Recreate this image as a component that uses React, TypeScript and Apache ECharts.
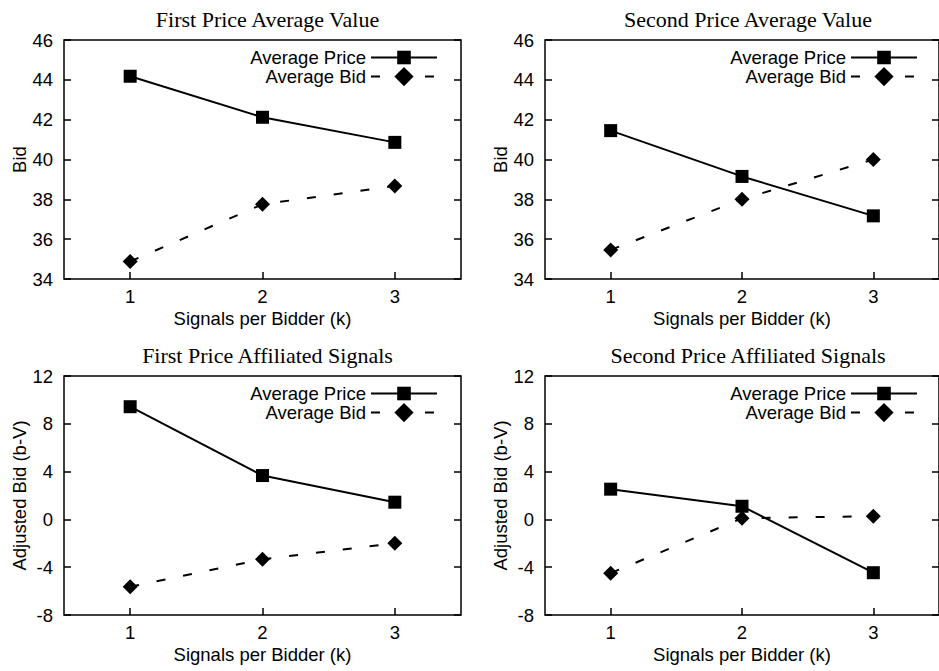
import React, { useEffect, useRef } from "react";
import * as echarts from "echarts";

// ---- Data ----
const kValues = [1, 2, 3];
const seriesNames = ["Average Price", "Average Bid"];

const titles = [
  "First Price Average Value",
  "Second Price Average Value",
  "First Price Affiliated Signals",
  "Second Price Affiliated Signals",
];
const yNames = ["Bid", "Bid", "Adjusted Bid (b-V)", "Adjusted Bid (b-V)"];
const xName = "Signals per Bidder (k)";

const fpavPrice = [44.18, 42.12, 40.86];
const fpavBid = [34.88, 37.75, 38.67];
const spavPrice = [41.45, 39.15, 37.17];
const spavBid = [35.46, 38.0, 40.0];
const fpasPrice = [9.43, 3.67, 1.44];
const fpasBid = [-5.64, -3.34, -2.0];
const spasPrice = [2.53, 1.1, -4.46];
const spasBid = [-4.5, 0.1, 0.27];

const priceData = [fpavPrice, spavPrice, fpasPrice, spasPrice];
const bidData = [fpavBid, spavBid, fpasBid, spasBid];

const yRangeTop = { min: 34, max: 46, interval: 2 };
const yRangeBottom = { min: -8, max: 12, interval: 4 };

// ---- Layout ----
const grids = [
  { left: 64, top: 40, width: 397, height: 239 },
  { left: 545, top: 40, width: 396, height: 239 },
  { left: 64, top: 376, width: 397, height: 239 },
  { left: 545, top: 376, width: 396, height: 239 },
];

const SANS = "Liberation Sans, Arial, Helvetica, sans-serif";
const SERIF = "Liberation Serif, Times New Roman, serif";
const FS = 18.5;

export default function App() {
  const ref = useRef<HTMLDivElement>(null);

  useEffect(() => {
    if (!ref.current) return;
    const chart = echarts.init(ref.current, null, { renderer: "svg" });

    const pair = (ys: number[]) => kValues.map((k, i) => [k, ys[i]]);

    const legendText = {
      fontFamily: SANS,
      fontSize: FS,
      color: "#000",
      lineHeight: 17,
    };

    const option: any = {
      animation: false,
      backgroundColor: "#fff",
      title: grids.map((g, i) => ({
        text: titles[i],
        left: g.left + g.width / 2,
        top: g.top - 37,
        textAlign: "center",
        textStyle: {
          fontFamily: SERIF,
          fontSize: 22,
          fontWeight: "normal",
          color: "#000",
        },
      })),
      legend: grids.flatMap((g) => [
        {
          orient: "vertical",
          align: "right",
          right: 939 - (g.left + g.width - 23),
          top: g.top + 8,
          padding: 0,
          itemWidth: 66,
          itemHeight: 17,
          selectedMode: false,
          data: [seriesNames[0]],
          textStyle: legendText,
        },
        {
          orient: "vertical",
          align: "right",
          right: 939 - (g.left + g.width - 23),
          top: g.top + 27,
          padding: 0,
          itemWidth: 66,
          itemHeight: 24,
          selectedMode: false,
          data: [seriesNames[1]],
          textStyle: legendText,
        },
      ]),
      grid: grids.map((g) => ({
        ...g,
        show: true,
        borderColor: "#000",
        borderWidth: 1.5,
        backgroundColor: "transparent",
        containLabel: false,
      })),
      xAxis: grids.map((g, i) => ({
        type: "value",
        gridIndex: i,
        min: 0.5,
        max: 3.5,
        axisLine: { show: false, onZero: false },
        splitLine: { show: false },
        axisTick: {
          show: true,
          inside: true,
          length: 7,
          customValues: kValues,
          lineStyle: { color: "#000", width: 1.5 },
        },
        axisLabel: {
          customValues: kValues,
          color: "#000",
          fontFamily: SANS,
          fontSize: FS,
          margin: 8,
        },
        name: xName,
        nameLocation: "middle",
        nameGap: 30,
        nameTextStyle: { fontFamily: SANS, fontSize: FS, color: "#000" },
      })),
      yAxis: grids.flatMap((g, i) => {
        const r = i < 2 ? yRangeTop : yRangeBottom;
        const common = {
          type: "value",
          gridIndex: i,
          min: r.min,
          max: r.max,
          interval: r.interval,
          axisLine: { show: false, onZero: false },
          splitLine: { show: false },
          axisTick: {
            show: true,
            inside: true,
            length: 7,
            lineStyle: { color: "#000", width: 1.5 },
          },
        };
        return [
          {
            ...common,
            position: "left",
            axisLabel: {
              color: "#000",
              fontFamily: SANS,
              fontSize: FS,
              margin: 11,
            },
            name: yNames[i],
            nameLocation: "middle",
            nameGap: i < 2 ? 31 : 30,
            nameTextStyle: { fontFamily: SANS, fontSize: FS, color: "#000" },
          },
          {
            ...common,
            position: "right",
            axisLabel: { show: false },
          },
        ];
      }),
      series: grids.flatMap((g, i) => [
        {
          name: seriesNames[0],
          type: "line",
          xAxisIndex: i,
          yAxisIndex: 2 * i,
          data: pair(priceData[i]),
          symbol: "rect",
          symbolSize: 13,
          color: "#000",
          itemStyle: { color: "#000" },
          lineStyle: { color: "#000", width: 2, type: "solid" },
          z: 3,
        },
        {
          name: seriesNames[1],
          type: "line",
          xAxisIndex: i,
          yAxisIndex: 2 * i,
          data: pair(bidData[i]),
          symbol: "diamond",
          symbolSize: 15,
          color: "#000",
          itemStyle: { color: "#000" },
          lineStyle: { color: "#000", width: 2, type: [9, 18] },
          z: 2,
        },
      ]),
    };

    chart.setOption(option);
    return () => chart.dispose();
  }, []);

  return (
    <div
      ref={ref}
      style={{
        position: "absolute",
        left: 0,
        top: 0,
        width: 939,
        height: 671,
        background: "#fff",
      }}
    />
  );
}
